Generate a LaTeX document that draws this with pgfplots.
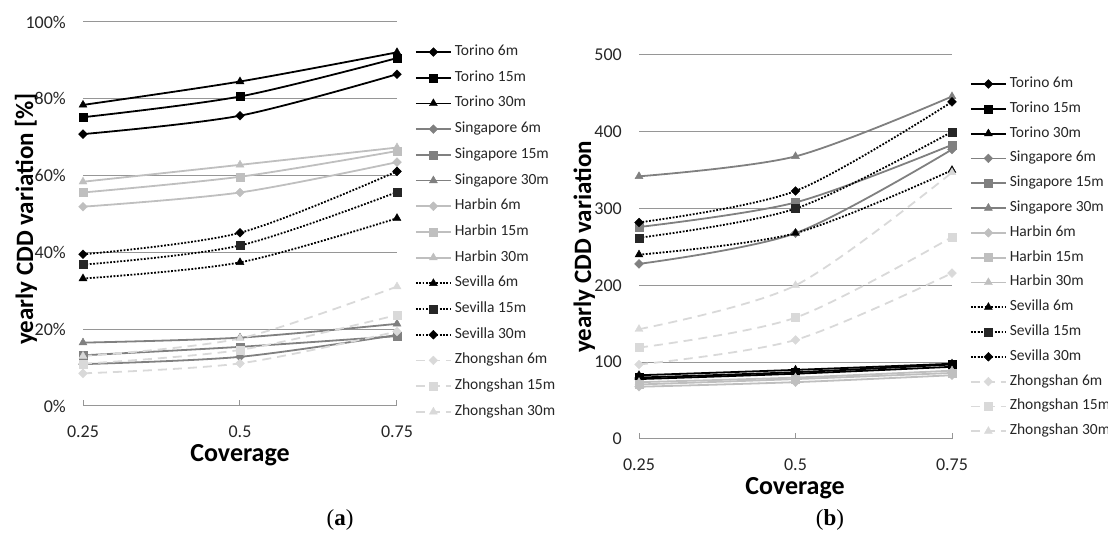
\documentclass[border=0pt]{standalone}
\usepackage{fontspec}
\setmainfont{Carlito}
\newfontfamily\capfont{Liberation Serif}
\usepackage{pgfplots}
\pgfplotsset{compat=1.18}

\definecolor{sing}{RGB}{128,128,128}
\definecolor{harb}{RGB}{191,191,191}
\definecolor{zhong}{RGB}{217,217,217}
\definecolor{sev15}{RGB}{38,38,38}
\definecolor{gridc}{RGB}{150,150,150}

\pgfplotsset{
 mystyle/.style={
  scale only axis, width=314pt, height=384pt,
  xmin=0.25, xmax=0.75,
  xtick={0.25,0.5,0.75}, xticklabels={0.25,0.5,0.75},
  axis lines*=left, axis line style={-},
  y axis line style={draw=none},
  x axis line style={draw=gridc, line width=1pt},
  ytick style={draw=none},
  xtick style={draw=gridc, line width=1pt},
  tick align=inside, major tick length=6pt,
  ymajorgrids, grid style={draw=gridc, line width=1pt},
  tick label style={font=\fontsize{18}{20}\selectfont, inner sep=0pt, text=black!85},
  yticklabel shift=17pt, xticklabel shift=20pt,
  legend cell align=left,
  legend image code/.code={\draw[mark repeat=2,mark phase=2,##1] plot coordinates {(0pt,0pt) (17.5pt,0pt) (35pt,0pt)}; \path (38pt,0pt);},
  legend style={draw=none, fill=none, inner sep=0pt, outer sep=0pt, anchor=north west,
     font=\fontsize{15.5}{18}\selectfont, text=black!85,
     nodes={inner sep=0pt, text height=10.5pt, text depth=3.5pt}},
  every axis plot/.append style={smooth, line width=1.8pt},
 },
 dmd/.style={mark=square*, mark size=3.1pt, mark options={rotate=45, solid, line width=0.4pt}},
 sqr/.style={mark=square*, mark size=4pt, mark options={solid, line width=0.4pt}},
 tri/.style={mark=triangle*, mark size=4.6pt, mark options={solid, line width=0.4pt}},
 tor/.style={color=black},
 sin/.style={color=sing},
 har/.style={color=harb},
 sev/.style={color=black, dash pattern=on 1.8pt off 1.6pt},
 zho/.style={color=zhong, dash pattern=on 9pt off 6pt},
}

\begin{document}
\begin{tikzpicture}[x=1pt,y=1pt]
\useasboundingbox (0,0) rectangle (1108,534);

% ---------------- (a) ----------------
\begin{axis}[mystyle, at={(83pt,128pt)}, anchor=south west,
  ymin=0, ymax=100, ytick={0,20,40,60,80,100},
  yticklabels={0\%,20\%,40\%,60\%,80\%,100\%},
  legend style={at={(1.0573,0.940)}, row sep=11.7pt}]
\addplot[tor, dmd] coordinates {(0.25,70.8) (0.5,75.6) (0.75,86.4)};
\addlegendentry{Torino 6m}
\addplot[tor, sqr] coordinates {(0.25,75.2) (0.5,80.6) (0.75,90.6)};
\addlegendentry{Torino 15m}
\addplot[tor, tri] coordinates {(0.25,78.4) (0.5,84.5) (0.75,92.1)};
\addlegendentry{Torino 30m}
\addplot[sin, dmd] coordinates {(0.25,10.9) (0.5,12.8) (0.75,18.5)};
\addlegendentry{Singapore 6m}
\addplot[sin, sqr] coordinates {(0.25,13.2) (0.5,15.4) (0.75,18.2)};
\addlegendentry{Singapore 15m}
\addplot[sin, tri] coordinates {(0.25,16.5) (0.5,17.8) (0.75,21.4)};
\addlegendentry{Singapore 30m}
\addplot[har, dmd] coordinates {(0.25,51.9) (0.5,55.6) (0.75,63.5)};
\addlegendentry{Harbin 6m}
\addplot[har, sqr] coordinates {(0.25,55.6) (0.5,59.7) (0.75,66.4)};
\addlegendentry{Harbin 15m}
\addplot[har, tri] coordinates {(0.25,58.4) (0.5,62.8) (0.75,67.3)};
\addlegendentry{Harbin 30m}
\addplot[sev, tri] coordinates {(0.25,33.2) (0.5,37.4) (0.75,48.9)};
\addlegendentry{Sevilla 6m}
\addplot[sev, mark=square*, mark size=4pt, mark options={solid, draw=sev15, fill=sev15, line width=0.4pt}] coordinates {(0.25,36.8) (0.5,41.8) (0.75,55.7)};
\addlegendentry{Sevilla 15m}
\addplot[sev, dmd] coordinates {(0.25,39.5) (0.5,45.1) (0.75,61.1)};
\addlegendentry{Sevilla 30m}
\addplot[zho, dmd] coordinates {(0.25,8.5) (0.5,11.1) (0.75,19.4)};
\addlegendentry{Zhongshan 6m}
\addplot[zho, sqr] coordinates {(0.25,11.0) (0.5,14.6) (0.75,23.7)};
\addlegendentry{Zhongshan 15m}
\addplot[zho, tri] coordinates {(0.25,13.0) (0.5,17.6) (0.75,31.1)};
\addlegendentry{Zhongshan 30m}
\end{axis}

% ---------------- (b) ----------------
\begin{axis}[mystyle, at={(639pt,95pt)}, anchor=south west, width=313pt,
  ymin=0, ymax=500, ytick={0,100,200,300,400,500},
  yticklabels={0,100,200,300,400,500},
  legend style={at={(1.0575,0.9427)}, row sep=10.8pt}]
\addplot[tor, dmd] coordinates {(0.25,78) (0.5,85) (0.75,94)};
\addlegendentry{Torino 6m}
\addplot[tor, sqr] coordinates {(0.25,80) (0.5,87) (0.75,97)};
\addlegendentry{Torino 15m}
\addplot[tor, tri] coordinates {(0.25,83) (0.5,90) (0.75,98)};
\addlegendentry{Torino 30m}
\addplot[sin, dmd] coordinates {(0.25,228) (0.5,268) (0.75,377)};
\addlegendentry{Singapore 6m}
\addplot[sin, sqr] coordinates {(0.25,276) (0.5,308) (0.75,383)};
\addlegendentry{Singapore 15m}
\addplot[sin, tri] coordinates {(0.25,342) (0.5,368) (0.75,446)};
\addlegendentry{Singapore 30m}
\addplot[har, dmd] coordinates {(0.25,68) (0.5,74) (0.75,83)};
\addlegendentry{Harbin 6m}
\addplot[har, sqr] coordinates {(0.25,71) (0.5,78) (0.75,86)};
\addlegendentry{Harbin 15m}
\addplot[har, tri] coordinates {(0.25,74) (0.5,80) (0.75,89)};
\addlegendentry{Harbin 30m}
\addplot[sev, tri] coordinates {(0.25,240) (0.5,268) (0.75,350)};
\addlegendentry{Sevilla 6m}
\addplot[sev, mark=square*, mark size=4pt, mark options={solid, draw=sev15, fill=sev15, line width=0.4pt}] coordinates {(0.25,262) (0.5,300) (0.75,400)};
\addlegendentry{Sevilla 15m}
\addplot[sev, dmd] coordinates {(0.25,282) (0.5,323) (0.75,439)};
\addlegendentry{Sevilla 30m}
\addplot[zho, dmd] coordinates {(0.25,97) (0.5,129) (0.75,216)};
\addlegendentry{Zhongshan 6m}
\addplot[zho, sqr] coordinates {(0.25,119) (0.5,158) (0.75,263)};
\addlegendentry{Zhongshan 15m}
\addplot[zho, tri] coordinates {(0.25,143) (0.5,200) (0.75,347)};
\addlegendentry{Zhongshan 30m}
\end{axis}

% labels
\node[rotate=90, anchor=base, font=\bfseries\fontsize{25}{30}\selectfont] at (33,315) {yearly CDD variation [\%]};
\node[rotate=90, anchor=base, font=\bfseries\fontsize{25}{30}\selectfont] at (591,287) {yearly CDD variation};
\node[font=\bfseries\fontsize{26}{30}\selectfont] at (240,79) {Coverage};
\node[font=\bfseries\fontsize{26}{30}\selectfont] at (795,46) {Coverage};
\node[font=\capfont\fontsize{23}{26}\selectfont] at (340,14) {(\textbf{a})};
\node[font=\capfont\fontsize{23}{26}\selectfont] at (830,14) {(\textbf{b})};
\end{tikzpicture}
\end{document}
